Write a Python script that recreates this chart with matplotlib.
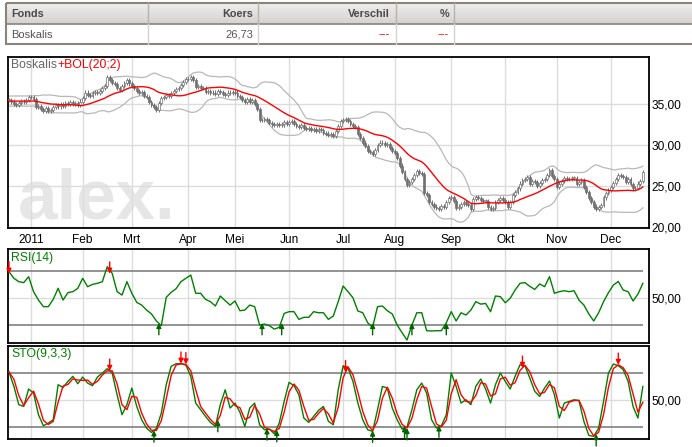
import numpy as np
import pandas as pd
import matplotlib
matplotlib.use("Agg")
import matplotlib.pyplot as plt
from matplotlib.patches import Rectangle
from matplotlib.colors import LinearSegmentedColormap
from matplotlib.ticker import FuncFormatter
from matplotlib.transforms import ScaledTranslation

plt.rcParams["font.family"] = ["Liberation Sans", "DejaVu Sans"]

# Table on top
table_header = ["Fonds", "Koers", "Verschil", "%"]
table_values = ["Boskalis", "26,73", "---", "---"]

# Month labels under the price chart
month_labels = ["2011", "Feb", "Mrt", "Apr", "Mei", "Jun", "Jul", "Aug", "Sep", "Okt", "Nov", "Dec"]

# Daily closes (21 Dec 2010 - 20 Dec 2011)
closes = [
    # Dec 2010
    35.5, 35.3, 35.0, 34.9, 35.1, 35.3, 35.2, 35.5, 35.8,
    # Jan
    35.9, 35.6, 34.6, 34.8, 34.4, 34.2, 34.5, 34.1, 34.3, 34.6, 34.9,
    34.7, 35.0, 34.8, 35.1, 35.0, 35.2, 35.0, 35.1, 34.9, 35.3,
    # Feb
    35.7, 36.4, 36.1, 36.0, 36.3, 36.5, 36.3, 36.6, 36.9, 37.2,
    38.3, 37.9, 37.6, 37.4, 37.0, 36.7, 37.2, 37.6, 37.9, 37.5,
    # Mrt
    37.2, 37.0, 36.6, 36.4, 36.5, 36.0, 35.8, 35.2, 34.9, 34.6, 34.3, 35.1,
    35.7, 35.9, 36.1, 36.0, 36.3, 36.6, 36.8, 37.0, 37.3, 37.7, 38.0,
    # Apr
    38.1, 38.3, 37.9, 37.1, 37.2, 37.0, 36.9, 36.5, 36.6, 36.3,
    36.4, 36.2, 36.6, 36.5, 36.2, 36.1, 36.4, 36.3, 36.5,
    # Mei
    36.4, 36.0, 35.8, 35.5, 35.3, 35.6, 35.2, 35.5, 35.0, 34.4, 33.1,
    33.0, 33.2, 33.0, 32.7, 32.5, 32.4, 32.6, 32.4, 32.5, 32.8, 32.6,
    # Jun
    32.8, 32.9, 32.6, 32.3, 32.2, 32.4, 32.1, 32.0, 32.1, 31.8, 31.9,
    31.7, 31.9, 31.8, 31.5, 31.4, 31.2, 31.3, 31.1, 31.7, 32.3, 32.9,
    # Jul
    33.0, 33.2, 32.9, 32.6, 32.3, 32.2, 31.3, 30.8, 30.3, 29.9, 29.3,
    29.1, 28.9, 29.4, 30.0, 30.3, 30.2, 30.0, 30.1, 29.6, 29.3,
    # Aug
    29.0, 28.4, 27.5, 26.7, 25.9, 25.1, 25.5, 25.9, 26.3, 26.8, 26.6, 26.5,
    24.2, 23.9, 23.1, 22.8, 22.5, 22.3, 22.2, 22.6, 22.5, 23.0, 23.5,
    # Sep
    23.6, 23.2, 22.3, 22.5, 22.8, 23.1, 22.8, 22.7, 22.2, 23.4, 23.6,
    23.5, 23.3, 23.2, 23.2, 22.4, 22.2, 22.3, 23.1, 23.3, 23.5, 23.3,
    # Okt
    23.1, 22.4, 23.1, 23.9, 24.3, 24.7, 25.3, 25.7, 25.9, 26.1, 25.3,
    25.6, 25.5, 25.0, 25.4, 25.7, 25.9, 26.3, 26.9, 26.2, 25.9,
    # Nov
    24.9, 25.3, 25.6, 26.0, 25.8, 25.85, 26.0, 26.0, 25.2, 25.5, 25.7,
    24.9, 24.3, 23.5, 23.1, 22.5, 22.2, 22.4, 22.7, 23.6, 24.1, 24.5,
    # Dec
    24.9, 25.4, 25.8, 26.3, 26.2, 26.1, 25.5, 25.8, 25.2, 24.7, 24.8,
    25.3, 25.6, 26.73,
]

# RSI(14), every second trading day
rsi_vals = [
    69.5, 64.6, 62.1, 61.4, 65.8, 54.7, 48.5, 43.6, 43.6, 49.0,
    57.2, 48.5, 54.0, 54.7, 57.2, 64.6, 58.4, 60.1, 60.9, 62.1,
    73.2, 68.3, 54.7, 52.2, 62.1, 53.5, 46.8, 44.8, 41.1, 38.2,
    33.0, 29.5, 50.5, 54.2, 56.9, 62.1, 64.6, 67.0, 53.5, 53.5,
    49.0, 47.3, 44.1, 51.5, 48.0, 44.8, 47.8, 40.6, 41.1, 44.8,
    43.6, 30.0, 30.7, 29.5, 27.0, 28.3, 38.6, 39.9, 39.9, 34.2,
    35.7, 35.7, 39.9, 39.1, 39.1, 34.2, 36.7, 47.3, 58.9, 54.7,
    50.2, 40.4, 39.1, 31.7, 28.3, 43.6, 44.1, 40.6, 38.2, 30.0,
    24.3, 18.9, 30.0, 39.1, 39.1, 25.8, 25.6, 25.8, 25.8, 31.7,
    39.9, 33.0, 39.1, 37.4, 41.1, 47.3, 45.5, 46.0, 39.9, 51.5,
    51.0, 46.5, 49.8, 55.9, 60.9, 61.4, 58.6, 56.4, 60.4, 58.4,
    65.8, 53.5, 54.7, 55.4, 54.7, 55.4, 48.5, 44.8, 38.2, 33.0,
    39.1, 47.3, 54.0, 59.6, 62.3, 55.9, 54.7, 47.8, 52.9, 60.9,
]

# STO(9,3,3) slow %K (green), every second trading day
sto_k_vals = [
    81.1, 65.1, 44.8, 42.9, 62.2, 57.7, 33.7, 21.4, 24.4, 28.1,
    67.0, 64.0, 70.7, 76.3, 68.1, 75.5, 68.8, 65.9, 75.5, 80.0,
    84.8, 80.0, 55.9, 33.7, 44.8, 63.3, 42.9, 28.1, 18.8, 14.0,
    18.5, 35.5, 67.0, 87.4, 90.3, 90.3, 88.8, 76.3, 46.6, 39.2,
    31.8, 25.1, 20.7, 44.8, 61.4, 41.1, 46.6, 36.3, 20.7, 41.1,
    46.6, 22.5, 17.0, 17.7, 12.5, 24.4, 48.5, 69.6, 65.9, 55.9,
    30.0, 25.1, 31.8, 38.5, 42.9, 26.3, 22.5, 61.4, 88.1, 85.5,
    70.7, 46.6, 28.1, 17.0, 15.1, 39.2, 65.1, 63.3, 41.1, 28.1,
    17.7, 20.0, 39.2, 61.4, 68.8, 57.7, 28.1, 18.8, 21.4, 33.7,
    80.0, 65.1, 46.6, 50.3, 44.8, 65.1, 73.3, 62.2, 46.6, 67.0,
    80.0, 70.7, 62.2, 76.3, 89.2, 88.1, 74.4, 59.6, 54.0, 63.3,
    71.1, 55.9, 30.0, 46.6, 48.5, 50.3, 49.2, 26.3, 10.7, 9.6,
    18.8, 48.5, 80.0, 90.0, 88.1, 83.7, 70.7, 42.9, 30.0, 65.1,
]

price_ticks = [20, 25, 30, 35]
rsi_levels = [30, 70]
sto_levels = [20, 80]

# bars where the signal arrows sit
rsi_sell_bars = [0, 41]
rsi_buy_bars = [61, 103, 111, 148, 164, 178]
sto_sell_bars = [41, 70, 72, 137, 209, 248]
sto_buy_bars = [59, 85, 105, 109, 148, 161, 162, 175, 239]

# Trading days (Euronext closed Good Friday / Easter Monday)
dates = pd.bdate_range("2010-12-21", "2011-12-20")
dates = dates.drop(pd.to_datetime(["2011-04-22", "2011-04-25"]))
n = len(closes)
assert len(dates) == n
x = np.arange(n)
month_pos = [i for i in range(1, n) if dates[i].month != dates[i - 1].month]
ind_x = x[::2]
assert len(ind_x) == len(rsi_vals) == len(sto_k_vals)

# Candles and Bollinger bands
c = pd.Series(closes)
o = c.shift(1).fillna(c.iloc[0])
wick = 0.25
hi = np.maximum(o, c) + wick
lo = np.minimum(o, c) - wick

mid = c.rolling(20, min_periods=10).mean().bfill()
sd = c.rolling(20, min_periods=10).std(ddof=0).bfill()
upper = mid + 2 * sd
lower = mid - 2 * sd

# %D is the short average of %K
sto_k = pd.Series(sto_k_vals)
sto_d = sto_k.rolling(2, min_periods=1).mean()

# Figure
W, H = 692, 447
fig = plt.figure(figsize=(W / 100, H / 100), dpi=100)
fmt = FuncFormatter(lambda v, p: f"{v:.2f}".replace(".", ","))

# background axes in pixel coords for the table
bg = fig.add_axes([0, 0, 1, 1], zorder=-5)
grad = np.linspace(0, 1, 24)[:, None]
cm = LinearSegmentedColormap.from_list("hdr", ["#efeeed", "#d5d2d0"])
bg.imshow(grad, extent=[6, W + 5, 24, 3], cmap=cm, aspect="auto")
bg.set_xlim(0, W)
bg.set_ylim(H, 0)
bg.axis("off")
bg.add_patch(Rectangle((6, 3), W, 41, fill=False, ec="#8b837c", lw=1.5))
bg.plot([6, W], [24, 24], color="#8b837c", lw=1.2)
for xs in [148, 258, 396, 454]:
    bg.plot([xs, xs], [3, 24], color="#b9b2ac", lw=1)
    bg.plot([xs, xs], [24, 44], color="#d4d4d4", lw=1)
col_pos = [(11, "left"), (253, "right"), (390, "right"), (449, "right")]
for (xp, ha), head, val in zip(col_pos, table_header, table_values):
    bg.text(xp, 14, head, ha=ha, va="center", fontsize=7.8, fontweight="bold",
            color="#4a4a4a")
    bg.text(xp, 34.5, val, ha=ha, va="center", fontsize=8,
            color="red" if val == "---" else "#555555")


def panel(top, bottom):
    ax = fig.add_axes([8 / W, 1 - bottom / H, 641 / W, (bottom - top) / H])
    ax.set_xlim(-0.4, n + 1.5)
    ax.set_xticks(month_pos)
    ax.grid(True, color="#dcdcdc", lw=1)
    ax.set_axisbelow(True)
    for s in ax.spines.values():
        s.set_color("black")
        s.set_linewidth(1.3)
    ax.yaxis.tick_right()
    ax.yaxis.set_major_formatter(fmt)
    ax.tick_params(length=0, labelsize=8.6, pad=2)
    return ax


def label(ax, parts, dy):
    tr = ax.transAxes + ScaledTranslation(3 / 100, -dy / 100, fig.dpi_scale_trans)
    t = ax.text(0, 1, parts[0][0], transform=tr, color=parts[0][1], fontsize=8.8,
                va="center", ha="left", zorder=10)
    for s, col in parts[1:]:
        t = ax.annotate(s, xy=(1, 0.5), xycoords=t, color=col, fontsize=8.8,
                        va="center", ha="left", zorder=10)


def arrow(ax, bar, y, color, up):
    d = -8.5 if up else 8.5
    ax.annotate("", xy=(bar, y), xytext=(0, d), textcoords="offset points",
                xycoords="data", zorder=8,
                arrowprops=dict(arrowstyle="-|>", color=color, lw=1,
                                mutation_scale=7, shrinkA=0, shrinkB=0))


# Price panel
ax1 = panel(57, 228)
ax1.set_ylim(19.88, 40.73)
ax1.set_yticks(price_ticks)
ax1.set_xticklabels(month_labels)
ax1.tick_params(axis="x", pad=4)
ax1.text(0, 0, "alex.", transform=ax1.transAxes + ScaledTranslation(0.10, 0.10, fig.dpi_scale_trans),
         fontsize=51, fontweight="bold", color="#e6e6e6", va="baseline", ha="left", zorder=0)
ax1.plot(x, upper, color="#b8b8b8", lw=0.9, zorder=2)
ax1.plot(x, lower, color="#b8b8b8", lw=0.9, zorder=2)
gray = "#707070"
ax1.vlines(x, lo, hi, color=gray, lw=0.7, zorder=3)
body = np.maximum((c - o).abs(), 0.06)
faces = np.where(c >= o, "white", gray)
ax1.bar(x, body, bottom=np.minimum(o, c), width=0.75, color=faces,
        edgecolor=gray, lw=0.5, zorder=4)
ax1.plot(x, mid, color="red", lw=1, zorder=5)
label(ax1, [("Boskalis", "#666666"), ("+BOL(20;2)", "red")], 8)

# RSI panel
ax2 = panel(249, 343)
ax2.set_ylim(16.7, 86.3)
ax2.set_yticks([50])
ax2.set_xticklabels([])
ax2.hlines(rsi_levels, 0, n - 1, color="#808080", lw=1.2, zorder=2)
ax2.plot(ind_x, rsi_vals, color="#008000", lw=1, zorder=3)
for b in rsi_sell_bars:
    arrow(ax2, b, 68, "red", False)
for b in rsi_buy_bars:
    arrow(ax2, b, 31.5, "#006400", True)
label(ax2, [("RSI(14)", "#008000")], 9)

# STO panel
ax3 = panel(346, 439)
ax3.set_ylim(6.7, 110)
ax3.set_yticks([50])
ax3.set_xticklabels([])
ax3.hlines(sto_levels, 0, n - 1, color="#808080", lw=1.2, zorder=2)
ax3.plot(ind_x, sto_k, color="#008000", lw=1, zorder=3)
ax3.plot(ind_x, sto_d, color="red", lw=1, zorder=4)
for b in sto_sell_bars:
    arrow(ax3, b, np.interp(b, ind_x, sto_d), "red", False)
for b in sto_buy_bars:
    arrow(ax3, b, np.interp(b, ind_x, sto_d), "#006400", True)
label(ax3, [("STO(9,3,3)", "#008000")], 8.5)

fig.savefig("out.png", dpi=100)
